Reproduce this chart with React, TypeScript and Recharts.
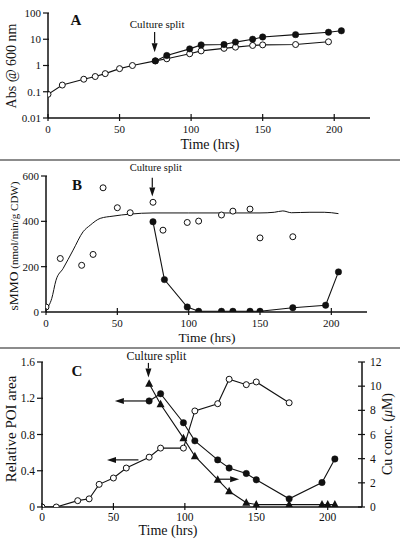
import React from 'react';
import { LineChart, Line, XAxis, YAxis, ReferenceLine } from 'recharts';

// ---- panel A: growth, Abs @ 600 nm (log scale)
const timeOpenA = [0, 10, 25, 33, 40, 50, 59, 75, 83, 99, 107, 123, 131, 143, 150, 173, 196];
const absOpen = [0.08, 0.18, 0.3, 0.38, 0.49, 0.76, 1.0, 1.5, 1.8, 2.8, 3.6, 4.5, 5.0, 5.8, 6.1, 6.3, 8.0];
const timeFilled = [75, 83, 99, 107, 123, 131, 143, 150, 173, 196, 205];
const absFilled = [1.5, 2.4, 4.3, 6.1, 6.3, 7.8, 10, 12.2, 15, 18.5, 21];
const absTicks = [0.01, 0.1, 1, 10, 100];

// ---- panel B: sMMO activity
const timeOpenB = [0, 10, 25, 33, 40, 50, 59, 75, 82, 99, 107, 123, 131, 143, 150, 173];
const smmoOpen = [22, 236, 206, 254, 548, 460, 438, 484, 361, 395, 401, 428, 445, 454, 327, 332];
const smmoFilled = [398, 143, 22, 3, 3, 3, 3, 3, 19, 30, 177];
const curveTime = [0, 4, 7, 12, 19, 26, 31, 38, 47, 59, 75, 100, 130, 150, 160, 166, 172, 185, 195, 205];
const curveSmmo = [10, 59, 140, 192, 273, 354, 383, 413, 423, 432, 437, 437, 437, 437, 440, 446, 438, 440, 440, 434];
const smmoTicks = [0, 100, 200, 300, 400, 500, 600];

// ---- panel C: relative POI area (left) and Cu conc. (right)
const timeOpenC = [0, 10, 25, 33, 40, 50, 59, 75, 83, 99, 107, 123, 131, 143, 150, 173];
const poiOpen = [0, 0, 0.07, 0.09, 0.25, 0.32, 0.43, 0.55, 0.65, 0.65, 1.06, 1.14, 1.41, 1.35, 1.38, 1.15];
const poiFilled = [1.17, 1.25, 0.93, 0.73, 0.52, 0.43, 0.37, 0.3, 0.09, 0.27, 0.53];
const timeTri = [75, 83, 99, 107, 123, 131, 143, 150, 173, 196, 200, 205];
const cuConc = [10.2, 8.5, 5.7, 4.2, 2.26, 1.3, 0.35, 0.2, 0.2, 0.2, 0.2, 0.2];
const poiTicks = [0, 0.2, 0.4, 0.6, 0.8, 1, 1.2, 1.4, 1.6];
const cuTicks = [0, 2, 4, 6, 8, 10, 12];

const timeTicks = [0, 50, 100, 150, 200];

const FONT = '"Liberation Serif", "Times New Roman", serif';
const INK = '#111';
const axisStyle = { stroke: INK, strokeWidth: 1.5 };

const zip = (t: number[], v: number[]) => t.map((x, i) => ({ t: x, v: v[i] }));

const openDot = { r: 3, fill: '#fff', stroke: INK, strokeWidth: 1 };
const filledDot = { r: 3.2, fill: INK, stroke: INK, strokeWidth: 0.5 };

const Triangle = (p: any) => {
  const { cx, cy, index } = p;
  if (cx == null || cy == null) return <g key={`tri-${index}`} />;
  return (
    <polygon
      key={`tri-${index}`}
      points={`${cx},${cy - 4.5} ${cx - 4},${cy + 3} ${cx + 4},${cy + 3}`}
      fill={INK}
    />
  );
};

const BottomTick = ({ x, y, payload, dy = 15, size = 11 }: any) => (
  <g>
    <line x1={x} x2={x} y1={y - 4} y2={y + 3} stroke={INK} strokeWidth={1.2} />
    <text x={x} y={y + dy} textAnchor="middle" fontSize={size} fontFamily={FONT} fill={INK}>
      {payload.value}
    </text>
  </g>
);

const LeftTick = ({ x, y, payload, size = 11 }: any) => (
  <g>
    <line x1={x - 5} x2={x + 1} y1={y} y2={y} stroke={INK} strokeWidth={1.2} />
    <text x={x - 7} y={y} dy="0.35em" textAnchor="end" fontSize={size} fontFamily={FONT} fill={INK}>
      {payload.value}
    </text>
  </g>
);

const RightTick = ({ x, y, payload, size = 11.5 }: any) => (
  <g>
    <line x1={x - 4} x2={x + 3} y1={y} y2={y} stroke={INK} strokeWidth={1.2} />
    <text x={x + 8} y={y} dy="0.35em" textAnchor="start" fontSize={size} fontFamily={FONT} fill={INK}>
      {payload.value}
    </text>
  </g>
);

// line with an arrow head at (x2, y2), optional caption above the start
const arrow = (caption?: string, capDx = 0, capDy = -4, capSize = 11) => (props: any) => {
  const { x1, y1, x2, y2 } = props;
  const len = Math.hypot(x2 - x1, y2 - y1) || 1;
  const ux = (x2 - x1) / len;
  const uy = (y2 - y1) / len;
  const hl = 9;
  const hw = 3;
  const bx = x2 - ux * hl;
  const by = y2 - uy * hl;
  return (
    <g>
      <line x1={x1} y1={y1} x2={bx} y2={by} stroke={INK} strokeWidth={1.2} />
      <polygon
        points={`${x2},${y2} ${bx - uy * hw},${by + ux * hw} ${bx + uy * hw},${by - ux * hw}`}
        fill={INK}
      />
      {caption && (
        <text x={x1 + capDx} y={y1 + capDy} textAnchor="middle" fontSize={capSize} fontFamily={FONT} fill={INK}>
          {caption}
        </text>
      )}
    </g>
  );
};

const timeLabel = (cx: number, dy: number, size = 14) => ({
  content: (p: any) => (
    <text
      x={cx}
      y={(p.viewBox?.y ?? 0) + dy}
      textAnchor="middle"
      fontSize={size}
      fontFamily={FONT}
      fill={INK}
    >
      Time (hrs)
    </text>
  ),
});

const panelLetter = (letter: string, x: number, y: number) => (
  <text x={x} y={y} textAnchor="middle" fontSize={15} fontWeight="bold" fontFamily={FONT} fill={INK}>
    {letter}
  </text>
);

function PanelA() {
  return (
    <LineChart width={400} height={160} margin={{ top: 13, right: 30, bottom: 0, left: 0 }}>
      <XAxis
        type="number"
        dataKey="t"
        domain={[0, 225]}
        ticks={timeTicks}
        allowDataOverflow
        height={42}
        tickSize={0}
        tickMargin={0}
        tickLine={false}
        axisLine={axisStyle}
        tick={(p: any) => <BottomTick {...p} dy={15} />}
        label={timeLabel(210, 31)}
      />
      <YAxis
        type="number"
        scale="log"
        domain={[0.01, 100]}
        ticks={absTicks}
        allowDataOverflow
        width={48}
        tickSize={0}
        tickMargin={0}
        tickLine={false}
        axisLine={axisStyle}
        tick={(p: any) => <LeftTick {...p} />}
        label={{
          content: () => (
            <g>
              <text
                transform="translate(16,66) rotate(-90)"
                textAnchor="middle"
                fontSize={14}
                fontFamily={FONT}
                fill={INK}
              >
                Abs @ 600 nm
              </text>
              {panelLetter('A', 76, 25)}
            </g>
          ),
        }}
      />
      <ReferenceLine
        segment={[{ x: 74.5, y: 19 }, { x: 74.5, y: 3.2 }]}
        shape={arrow('Culture split', 2.5, -4, 11)}
        ifOverflow="visible"
      />
      <Line
        data={zip(timeOpenA, absOpen)}
        dataKey="v"
        stroke={INK}
        strokeWidth={1.1}
        dot={openDot}
        isAnimationActive={false}
      />
      <Line
        data={zip(timeFilled, absFilled)}
        dataKey="v"
        stroke={INK}
        strokeWidth={1.1}
        dot={filledDot}
        isAnimationActive={false}
      />
    </LineChart>
  );
}

function PanelB() {
  return (
    <LineChart width={400} height={188} margin={{ top: 16, right: 33, bottom: 0, left: 0 }}>
      <XAxis
        type="number"
        dataKey="t"
        domain={[0, 225]}
        ticks={timeTicks}
        allowDataOverflow
        height={36}
        tickSize={0}
        tickMargin={0}
        tickLine={false}
        axisLine={axisStyle}
        tick={(p: any) => <BottomTick {...p} dy={14.5} />}
        label={timeLabel(207, 30, 13.5)}
      />
      <YAxis
        type="number"
        domain={[0, 600]}
        ticks={smmoTicks}
        allowDataOverflow
        width={46}
        tickSize={0}
        tickMargin={0}
        tickLine={false}
        axisLine={axisStyle}
        tick={(p: any) => <LeftTick {...p} />}
        label={{
          content: () => (
            <g>
              <text
                transform="translate(18,86) rotate(-90)"
                textAnchor="middle"
                fontFamily={FONT}
                fill={INK}
              >
                <tspan fontSize={13.5}>sMMO</tspan>
                <tspan fontSize={11}> (nmol/min/g CDW)</tspan>
              </text>
              {panelLetter('B', 77, 30)}
            </g>
          ),
        }}
      />
      <ReferenceLine
        segment={[{ x: 74.5, y: 592 }, { x: 74.5, y: 510 }]}
        shape={arrow('Culture split', 3.5, -7, 10.5)}
        ifOverflow="visible"
      />
      <Line
        data={zip(curveTime, curveSmmo)}
        dataKey="v"
        type="monotone"
        stroke={INK}
        strokeWidth={1}
        dot={false}
        isAnimationActive={false}
      />
      <Line
        data={zip(timeOpenB, smmoOpen)}
        dataKey="v"
        stroke="none"
        dot={openDot}
        isAnimationActive={false}
      />
      <Line
        data={zip(timeFilled, smmoFilled)}
        dataKey="v"
        stroke={INK}
        strokeWidth={1.1}
        dot={filledDot}
        isAnimationActive={false}
      />
    </LineChart>
  );
}

function PanelC() {
  return (
    <LineChart width={400} height={193} margin={{ top: 14, right: 0, bottom: 0, left: 0 }}>
      <XAxis
        type="number"
        dataKey="t"
        domain={[0, 224]}
        ticks={timeTicks}
        allowDataOverflow
        height={34}
        tickSize={0}
        tickMargin={0}
        tickLine={false}
        axisLine={axisStyle}
        tick={(p: any) => <BottomTick {...p} dy={14} size={11.5} />}
        label={timeLabel(168, 28)}
      />
      <YAxis
        yAxisId="left"
        type="number"
        domain={[0, 1.6]}
        ticks={poiTicks}
        allowDataOverflow
        width={42}
        tickSize={0}
        tickMargin={0}
        tickLine={false}
        axisLine={axisStyle}
        tick={(p: any) => <LeftTick {...p} size={11.5} />}
        label={{
          content: () => (
            <g>
              <text
                transform="translate(16,81) rotate(-90)"
                textAnchor="middle"
                fontSize={15}
                fontFamily={FONT}
                fill={INK}
              >
                Relative POI area
              </text>
              {panelLetter('C', 77, 28)}
            </g>
          ),
        }}
      />
      <YAxis
        yAxisId="right"
        orientation="right"
        type="number"
        domain={[0, 12]}
        ticks={cuTicks}
        allowDataOverflow
        width={38}
        tickSize={0}
        tickMargin={0}
        tickLine={false}
        axisLine={axisStyle}
        tick={(p: any) => <RightTick {...p} />}
        label={{
          content: () => (
            <text
              transform="translate(392,86) rotate(-90)"
              textAnchor="middle"
              fontSize={14}
              fontFamily={FONT}
              fill={INK}
            >
              Cu conc. (<tspan fontStyle="italic">μ</tspan>M)
            </text>
          ),
        }}
      />
      <ReferenceLine
        yAxisId="left"
        segment={[{ x: 74.5, y: 1.59 }, { x: 74.5, y: 1.43 }]}
        shape={arrow('Culture split', 8, -3, 12)}
        ifOverflow="visible"
      />
      <ReferenceLine
        yAxisId="left"
        segment={[{ x: 73, y: 1.17 }, { x: 51, y: 1.17 }]}
        shape={arrow()}
        ifOverflow="visible"
      />
      <ReferenceLine
        yAxisId="left"
        segment={[{ x: 67.5, y: 0.52 }, { x: 45.5, y: 0.52 }]}
        shape={arrow()}
        ifOverflow="visible"
      />
      <ReferenceLine
        yAxisId="right"
        segment={[{ x: 124, y: 2.3 }, { x: 138, y: 2.3 }]}
        shape={arrow()}
        ifOverflow="visible"
      />
      <Line
        yAxisId="left"
        data={zip(timeOpenC, poiOpen)}
        dataKey="v"
        stroke={INK}
        strokeWidth={1.1}
        dot={openDot}
        isAnimationActive={false}
      />
      <Line
        yAxisId="left"
        data={zip(timeFilled, poiFilled)}
        dataKey="v"
        stroke={INK}
        strokeWidth={1.1}
        dot={filledDot}
        isAnimationActive={false}
      />
      <Line
        yAxisId="right"
        data={zip(timeTri, cuConc)}
        dataKey="v"
        stroke={INK}
        strokeWidth={1.1}
        dot={Triangle}
        isAnimationActive={false}
      />
    </LineChart>
  );
}

export default function App() {
  return (
    <div
      style={{
        position: 'absolute',
        left: 0,
        top: 0,
        width: 400,
        height: 541,
        background: '#fff',
        fontFamily: FONT,
        overflow: 'hidden',
      }}
    >
      <div style={{ position: 'absolute', left: 0, top: 0 }}>
        <PanelA />
      </div>
      <div style={{ position: 'absolute', left: 0, top: 159, width: 400, height: 1.5, background: '#8c8c8c' }} />
      <div style={{ position: 'absolute', left: 0, top: 160 }}>
        <PanelB />
      </div>
      <div style={{ position: 'absolute', left: 0, top: 347, width: 400, height: 1.5, background: '#8c8c8c' }} />
      <div style={{ position: 'absolute', left: 0, top: 348 }}>
        <PanelC />
      </div>
    </div>
  );
}
